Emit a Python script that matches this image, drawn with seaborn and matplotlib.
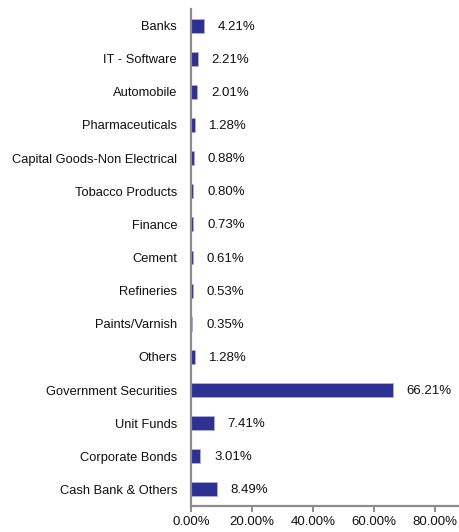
import matplotlib
matplotlib.use("Agg")
import matplotlib.pyplot as plt
import pandas as pd
import seaborn as sns
from matplotlib.ticker import FuncFormatter

# Sector / asset allocation (% of portfolio)
categories = [
    "Banks", "IT - Software", "Automobile", "Pharmaceuticals",
    "Capital Goods-Non Electrical", "Tobacco Products", "Finance", "Cement",
    "Refineries", "Paints/Varnish", "Others", "Government Securities",
    "Unit Funds", "Corporate Bonds", "Cash Bank & Others",
]
values = [4.21, 2.21, 2.01, 1.28, 0.88, 0.80, 0.73, 0.61, 0.53, 0.35,
          1.28, 66.21, 7.41, 3.01, 8.49]
xticks = [0, 20, 40, 60, 80]

df = pd.DataFrame({"category": categories, "value": values})

sns.set_theme(style="white")
plt.rcParams["font.family"] = ["Liberation Sans", "DejaVu Sans"]

fig = plt.figure(figsize=(4.59, 5.32), dpi=100)
ax = fig.add_axes([191 / 459, 1 - 506 / 532, 1 - 191 / 459, (506 - 9) / 532])

bar_color = "#2E3192"
sns.barplot(data=df, x="value", y="category", orient="h", ax=ax,
            color=bar_color, saturation=1, width=0.42,
            edgecolor="#A8B0E0", linewidth=0.6)

# value labels to the right of each bar
for i, v in enumerate(values):
    ax.annotate(f"{v:.2f}%", xy=(v, i), xytext=(14, -1),
                textcoords="offset pixels",
                va="center", ha="left", fontsize=9.5, color="#111111")

ax.set_xlim(0, 88)
ax.set_xticks(xticks)
ax.xaxis.set_major_formatter(FuncFormatter(lambda x, _: f"{x:.2f}%"))
ax.set_xlabel("")
ax.set_ylabel("")

for side in ["top", "right"]:
    ax.spines[side].set_visible(False)
for side in ["left", "bottom"]:
    ax.spines[side].set_color("#8C8C8C")
    ax.spines[side].set_linewidth(1.6)

ax.tick_params(axis="x", direction="out", length=4, width=1.4, color="#8C8C8C",
               labelsize=9.5, labelcolor="#111111", pad=3, bottom=True)
ax.tick_params(axis="y", length=0, labelsize=9.3, labelcolor="#111111", pad=10)

fig.savefig("out.png", dpi=100)
